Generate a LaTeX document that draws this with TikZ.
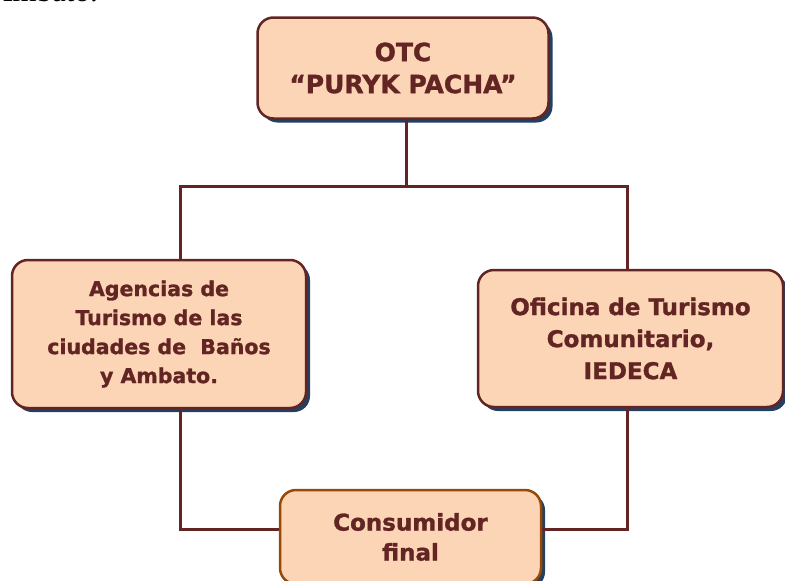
\documentclass[tikz,border=0pt]{standalone}
\usepackage{fontspec}
\setmainfont{DejaVu Sans}[BoldFeatures={FakeBold=1.3}]
\newfontfamily\seriffont{Liberation Serif}
\usepackage{tikz}
\usetikzlibrary{shadows}

\definecolor{boxfill}{HTML}{FBD5B5}
\definecolor{maroon}{HTML}{632523}
\definecolor{rust}{HTML}{984807}
\definecolor{shadowblue}{HTML}{243F60}

\begin{document}
\begin{tikzpicture}[x=1pt,y=-1pt,
  orgbox/.style={draw=maroon,line width=2.5pt,fill=boxfill,rounded corners=16pt,
    text=maroon,font=\bfseries,align=center,inner sep=0pt,
    drop shadow={shadow xshift=4pt,shadow yshift=-4pt,fill=shadowblue,opacity=1}},
  conn/.style={draw=maroon,line width=3pt}]
\useasboundingbox (0,0) rectangle (785,581);
\clip (0,0) rectangle (785,581);
\node[anchor=base east,inner sep=0pt,font=\seriffont\fontsize{31}{33}\selectfont] (frag) at (98,1) {Ambato.};
\node[orgbox,minimum width=291pt,minimum height=101pt,
  font=\bfseries\fontsize{25}{32}\selectfont] (otc) at (403,68) {OTC\\``PURYK PACHA''};
\node[orgbox,minimum width=294pt,minimum height=148pt,
  font=\bfseries\fontsize{20.5}{29}\selectfont] (agencias) at (159,334)
  {Agencias de\\Turismo de las\\ciudades de \ Baños\\y Ambato.};
\node[orgbox,minimum width=305pt,minimum height=137pt,
  font=\bfseries\fontsize{23}{32}\selectfont] (oficina) at (630.5,338.5)
  {Oficina de Turismo\\Comunitario,\\IEDECA};
\node[orgbox,draw=rust,minimum width=261pt,minimum height=94pt,
  font=\bfseries\fontsize{23}{30}\selectfont] (consumidor) at (410.5,537)
  {Consumidor\\final};
% connectors
\coordinate (split) at (406,186);
\draw[conn] (otc.south -| split) -- (split);
\draw[conn] ([xshift=21pt]agencias.north) |- (split) -| ([xshift=-3pt]oficina.north);
\draw[conn] ([xshift=21pt]agencias.south) |- ([yshift=8pt]consumidor.west);
\draw[conn] ([xshift=-3pt]oficina.south) |- ([yshift=8pt]consumidor.east);
\end{tikzpicture}
\end{document}
